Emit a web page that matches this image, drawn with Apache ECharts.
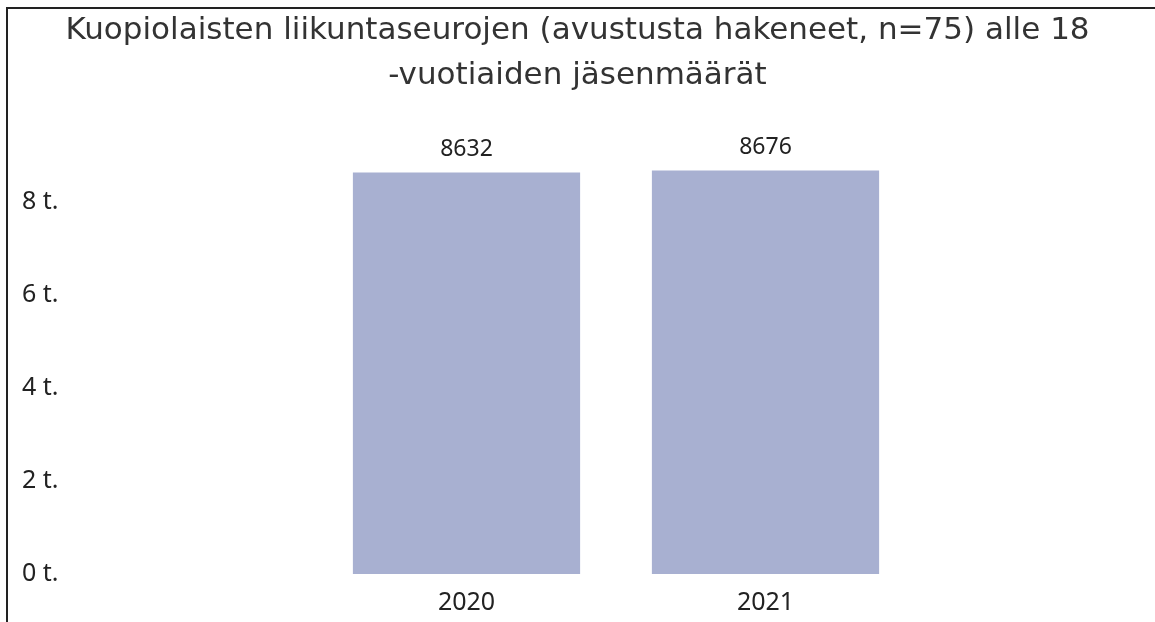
<!DOCTYPE html>
<html>
<head>
<meta charset="utf-8">
<script src="https://cdn.jsdelivr.net/npm/echarts@6/dist/echarts.min.js"></script>
<style>
  html, body { margin: 0; padding: 0; background: #fff; }
  #chart { width: 1155px; height: 622px; }
</style>
</head>
<body>
<div id="chart"></div>
<script>
// data
const years = ['2020', '2021'];
const members = [8632, 8676];

const chart = echarts.init(document.getElementById('chart'));
chart.setOption({
  backgroundColor: '#fff',
  animation: false,
  title: {
    text: 'Kuopiolaisten liikuntaseurojen (avustusta hakeneet, n=75) alle 18\n-vuotiaiden jäsenmäärät',
    left: 'center',
    top: 3,
    textStyle: {
      fontFamily: "'DejaVu Sans', Verdana, sans-serif",
      fontSize: 31,
      fontWeight: 'normal',
      color: '#333',
      lineHeight: 45
    }
  },
  graphic: [{
    type: 'rect',
    shape: { x: 7, y: 8, width: 1300, height: 800 },
    style: { fill: 'none', stroke: '#222', lineWidth: 2 },
    silent: true
  }],
  grid: {
    left: 317,
    right: 240,
    top: 109,
    bottom: 48
  },
  xAxis: {
    type: 'category',
    data: years,
    axisLine: { show: false },
    axisTick: { show: false },
    axisLabel: {
      margin: 16,
      fontFamily: "'Noto Sans', sans-serif",
      fontSize: 25,
      color: '#222'
    }
  },
  yAxis: {
    type: 'value',
    min: 0,
    max: 10000,
    interval: 2000,
    splitLine: { show: false },
    axisLabel: {
      showMaxLabel: false,
      align: 'left',
      margin: 295,
      fontFamily: "'Noto Sans', sans-serif",
      fontSize: 25,
      color: '#222',
      formatter: v => (v / 1000) + ' t.'
    }
  },
  series: [{
    type: 'bar',
    data: members,
    barWidth: '76%',
    itemStyle: { color: '#a8b0d1' },
    label: {
      show: true,
      position: 'top',
      distance: 12,
      fontFamily: "'Noto Sans', sans-serif",
      fontSize: 23,
      color: '#222'
    }
  }]
});
</script>
</body>
</html>
